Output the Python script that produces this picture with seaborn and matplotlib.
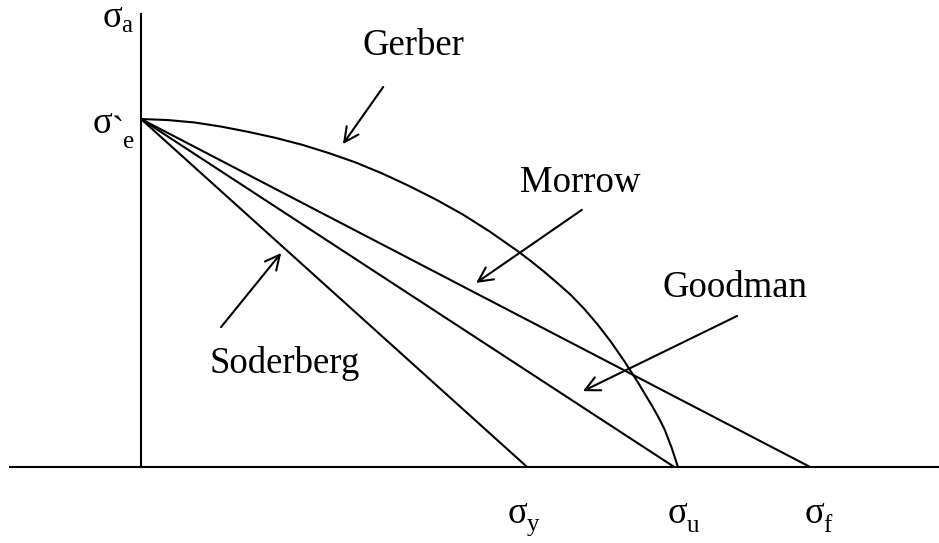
import matplotlib
matplotlib.use("Agg")
import matplotlib.pyplot as plt
import seaborn as sns
import pandas as pd

# Fatigue limit on the alternating-stress axis (normalised)
sigma_e = 1.0
# Intercepts on the mean-stress axis
sigma_y = 0.719   # yield strength  (Soderberg)
sigma_u = 0.993   # ultimate strength (Goodman)
sigma_f = 1.246   # true fracture strength (Morrow)

# Gerber curve, read point by point
gerber_m = [0.0, 0.05, 0.10, 0.15, 0.20, 0.25, 0.30, 0.35, 0.40, 0.45,
            0.50, 0.55, 0.60, 0.65, 0.70, 0.725, 0.75, 0.775, 0.80, 0.825,
            0.85, 0.875, 0.90, 0.925, 0.95, 0.9625, 0.975, 0.9875, 1.0]
gerber_a = [1.0, 0.997, 0.990, 0.978, 0.963, 0.946, 0.926, 0.902, 0.875,
            0.843, 0.807, 0.768, 0.725, 0.676, 0.622, 0.593, 0.562, 0.529,
            0.495, 0.455, 0.410, 0.360, 0.304, 0.244, 0.180, 0.146, 0.108,
            0.058, 0.0]

criteria = ["Soderberg", "Goodman", "Morrow"]
intercepts = [sigma_y, sigma_u, sigma_f]

sns.set_theme(style="white")
plt.rcParams["font.family"] = ["Liberation Serif", "DejaVu Serif"]
plt.rcParams["text.color"] = "black"

fig = plt.figure(figsize=(9.39, 5.43), dpi=100)
ax = fig.add_axes([0, 0, 1, 1])
ax.set_xlim(-0.2626, 1.486)
ax.set_ylim(-0.2184, 1.342)
ax.axis("off")

lw = 1.5
# straight-line criteria
rows = []
for name, xi in zip(criteria, intercepts):
    rows.append({"crit": name, "sm": 0.0, "sa": sigma_e})
    rows.append({"crit": name, "sm": xi, "sa": 0.0})
lines = pd.DataFrame(rows)
sns.lineplot(data=lines, x="sm", y="sa", units="crit", estimator=None,
             color="black", lw=lw, ax=ax, sort=False)

# Gerber curve
gerber = pd.DataFrame({"sm": gerber_m, "sa": gerber_a})
sns.lineplot(data=gerber, x="sm", y="sa", color="black", lw=lw, ax=ax,
             sort=False, estimator=None)

# coordinate axes
ax.plot([-0.246, 1.49], [0, 0], color="black", lw=lw, solid_capstyle="butt")
ax.plot([0, 0], [0, 1.305], color="black", lw=lw, solid_capstyle="butt")

fs = 26.5
fs_sub = 18

# curve labels with pointing arrows
labels = {
    "Gerber":    dict(txt=(0.413, 1.184), tail=(0.451, 1.092), head=(0.376, 0.928)),
    "Morrow":    dict(txt=(0.706, 0.790), tail=(0.821, 0.739), head=(0.624, 0.529)),
    "Goodman":   dict(txt=(0.972, 0.489), tail=(1.110, 0.434), head=(0.823, 0.218)),
    "Soderberg": dict(txt=(0.128, 0.270), tail=(0.149, 0.402), head=(0.261, 0.615)),
}
for name, d in labels.items():
    ax.text(*d["txt"], name, fontsize=fs, ha="left", va="baseline", color="black")
    ax.annotate("", xy=d["head"], xytext=d["tail"],
                arrowprops=dict(arrowstyle="->", lw=lw, color="black",
                                mutation_scale=26, shrinkA=0, shrinkB=0))

# axis symbols
def sym(x, y, sub, xs, ys):
    ax.text(x, y, "σ", fontsize=fs, ha="left", va="baseline", color="black")
    ax.text(xs, ys, sub, fontsize=fs_sub, ha="left", va="baseline", color="black")

sym(-0.071, 1.265, "a", -0.037, 1.250)
sym(-0.091, 0.960, "e", -0.034, 0.917)
ax.text(-0.054, 0.934, "`", fontsize=fs, ha="left", va="baseline", color="black")
sym(0.682, -0.161, "y", 0.719, -0.183)
sym(0.981, -0.161, "u", 1.017, -0.187)
sym(1.236, -0.161, "f", 1.270, -0.187)

fig.savefig("out.png", dpi=100, facecolor="white")
